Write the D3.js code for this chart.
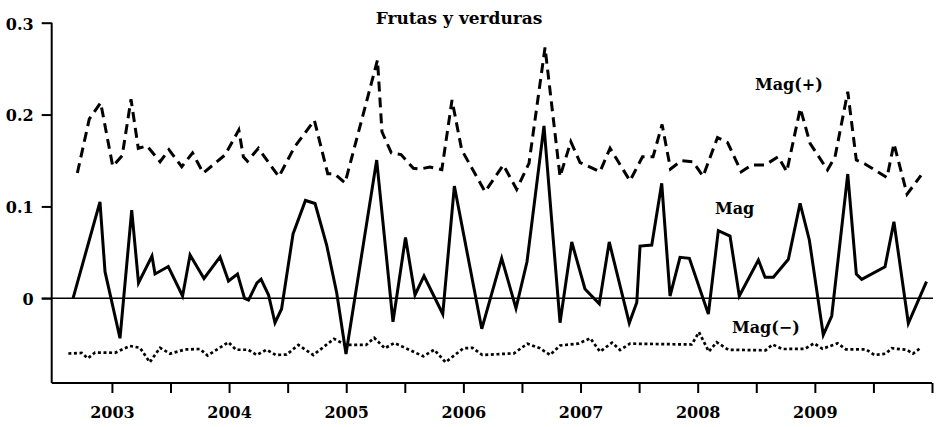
<!DOCTYPE html>
<html>
<head>
<meta charset="utf-8">
<script src="https://cdn.jsdelivr.net/npm/d3@7"></script>
<style>
  body { margin: 0; background: #fff; }
  svg text { font-family: "DejaVu Serif", "Liberation Serif", serif; fill: #000; }
</style>
</head>
<body>
<div id="chart"></div>
<script>
// Frutas y verduras - Mag, Mag(+), Mag(-) series, 2002-2009
// values (dates as decimal years)

const magDates = [2002.668, 2002.898, 2002.941, 2003.069, 2003.169, 2003.227, 2003.342, 2003.368, 2003.481, 2003.603,
  2003.667, 2003.786, 2003.923, 2003.995, 2004.072, 2004.132, 2004.166, 2004.238, 2004.273, 2004.337,
  2004.392, 2004.448, 2004.546, 2004.652, 2004.734, 2004.833, 2004.919, 2004.998, 2005.260, 2005.399,
  2005.506, 2005.587, 2005.664, 2005.824, 2005.923, 2006.157, 2006.327, 2006.449, 2006.543, 2006.688,
  2006.825, 2006.925, 2007.038, 2007.160, 2007.245, 2007.416, 2007.480, 2007.508, 2007.608, 2007.693,
  2007.764, 2007.849, 2007.929, 2008.091, 2008.176, 2008.276, 2008.355, 2008.518, 2008.575, 2008.646,
  2008.774, 2008.874, 2008.953, 2009.072, 2009.144, 2009.281, 2009.354, 2009.400, 2009.599, 2009.675,
  2009.798, 2009.953];
const magValues = [0.000, 0.105, 0.029, -0.0435, 0.096, 0.0167, 0.046, 0.0265, 0.0346, 0.0025,
  0.0471, 0.0216, 0.045, 0.0188, 0.0265, -0.0002, -0.0019, 0.0167, 0.0207, 0.0036,
  -0.0266, -0.0116, 0.070, 0.1065, 0.1032, 0.058, 0.0058, -0.0606, 0.1505, -0.0255,
  0.0662, 0.0036, 0.0243, -0.0171, 0.1222, -0.0332, 0.0435, -0.0109, 0.0398, 0.1876,
  -0.0266, 0.0613, 0.0101, -0.0059, 0.0613, -0.0269, -0.0046, 0.0569, 0.058, 0.1252,
  0.0025, 0.0446, 0.0435, -0.0171, 0.0736, 0.0678, 0.0025, 0.0417, 0.0229, 0.0229,
  0.0425, 0.1034, 0.0635, -0.0399, -0.0193, 0.1353, 0.0265, 0.0207, 0.0344, 0.0834,
  -0.0272, 0.0181];

const plusDates = [2002.705, 2002.807, 2002.904, 2003.007, 2003.088, 2003.163, 2003.225, 2003.300, 2003.411, 2003.487,
  2003.596, 2003.688, 2003.780, 2003.965, 2004.083, 2004.122, 2004.157, 2004.250, 2004.425, 2004.556,
  2004.728, 2004.842, 2004.904, 2004.990, 2005.267, 2005.305, 2005.385, 2005.468, 2005.573, 2005.630,
  2005.713, 2005.816, 2005.903, 2005.986, 2006.185, 2006.341, 2006.455, 2006.560, 2006.697, 2006.825,
  2006.917, 2006.996, 2007.166, 2007.252, 2007.422, 2007.529, 2007.619, 2007.696, 2007.768, 2007.860,
  2007.960, 2008.046, 2008.169, 2008.255, 2008.372, 2008.461, 2008.575, 2008.688, 2008.760, 2008.876,
  2008.959, 2009.108, 2009.172, 2009.281, 2009.354, 2009.428, 2009.616, 2009.675, 2009.787, 2009.906];
const plusValues = [0.1364, 0.1952, 0.2129, 0.1437, 0.1554, 0.2166, 0.1633, 0.1658, 0.1487, 0.1618,
  0.1432, 0.1582, 0.1364, 0.156, 0.1832, 0.1541, 0.1492, 0.1633, 0.1324, 0.1641,
  0.1938, 0.1356, 0.1353, 0.1255, 0.2594, 0.1813, 0.1582, 0.1565, 0.1415, 0.1407,
  0.1429, 0.140, 0.2158, 0.1614, 0.116, 0.1451, 0.1186, 0.1469, 0.273, 0.1324,
  0.1705, 0.1478, 0.1378, 0.1633, 0.1279, 0.1541, 0.1541, 0.1892, 0.1407, 0.1497,
  0.1487, 0.1328, 0.175, 0.1696, 0.1378, 0.1451, 0.1451, 0.1541, 0.1378, 0.2068,
  0.1687, 0.1397, 0.1538, 0.2249, 0.1505, 0.1462, 0.1315, 0.1683, 0.1133, 0.1337];

const minusDates = [2002.628, 2002.742, 2002.794, 2002.856, 2003.026, 2003.154, 2003.240, 2003.323, 2003.411, 2003.496,
  2003.624, 2003.752, 2003.816, 2003.994, 2004.059, 2004.164, 2004.236, 2004.321, 2004.399, 2004.492,
  2004.591, 2004.719, 2004.896, 2004.994, 2005.169, 2005.239, 2005.329, 2005.410, 2005.510, 2005.658,
  2005.751, 2005.848, 2006.000, 2006.078, 2006.161, 2006.432, 2006.546, 2006.654, 2006.740, 2006.825,
  2006.979, 2007.084, 2007.166, 2007.269, 2007.337, 2007.422, 2007.949, 2008.011, 2008.095, 2008.162,
  2008.261, 2008.579, 2008.639, 2008.724, 2008.916, 2008.993, 2009.066, 2009.194, 2009.264, 2009.435,
  2009.509, 2009.606, 2009.656, 2009.784, 2009.838, 2009.898];
const minusValues = [-0.0601, -0.0595, -0.0653, -0.059, -0.0593, -0.0519, -0.0539, -0.0696, -0.0539, -0.0603,
  -0.0557, -0.0552, -0.0623, -0.0478, -0.056, -0.056, -0.0617, -0.056, -0.0617, -0.0612,
  -0.0508, -0.0617, -0.0441, -0.0508, -0.0508, -0.043, -0.0544, -0.0487, -0.0544, -0.0631,
  -0.056, -0.0696, -0.0544, -0.0539, -0.0617, -0.0599, -0.0494, -0.0544, -0.0617, -0.0514,
  -0.0494, -0.0435, -0.0581, -0.0483, -0.0563, -0.0494, -0.0503, -0.0369, -0.0581, -0.0478,
  -0.056, -0.0566, -0.0503, -0.0552, -0.055, -0.049, -0.055, -0.049, -0.0555, -0.0555,
  -0.0617, -0.0603, -0.0544, -0.056, -0.0603, -0.0544];

const yTicks = [0, 0.1, 0.2, 0.3];
const yTickLabels = ["0", "0.1", "0.2", "0.3"];
const yearTicks = [2003, 2004, 2005, 2006, 2007, 2008, 2009];
const halfYearTicks = [2003.5, 2004.5, 2005.5, 2006.5, 2007.5, 2008.5, 2009.5, 2010];

const width = 939;
const height = 427;

const svg = d3.select("#chart")
    .append("svg")
    .attr("width", width)
    .attr("height", height);

// scales
const xScale = d3.scaleLinear()
    .domain([2002.486, 2010.0])
    .range([51.7, 932]);

const yScale = d3.scaleLinear()
    .domain([-0.0922, 0.3])
    .range([383, 22.7]);

// zero line across the plot
svg.append("line")
    .attr("x1", xScale.range()[0] - 10)
    .attr("x2", xScale.range()[1] + 1)
    .attr("y1", yScale(0))
    .attr("y2", yScale(0))
    .attr("stroke", "#000")
    .attr("stroke-width", 1.5);

// y axis
const yAxis = svg.append("g")
    .attr("transform", `translate(${xScale.range()[0]},0)`)
    .call(d3.axisLeft(yScale)
        .tickValues(yTicks)
        .tickSize(10)
        .tickPadding(8)
        .tickFormat((d, i) => yTickLabels[i]));
yAxis.select(".domain")
    .attr("d", `M0,${yScale(0.3)}V${yScale.range()[0]}`)
    .attr("stroke-width", 2);
yAxis.selectAll(".tick line").attr("stroke-width", 2);
yAxis.selectAll(".tick text")
    .style("font-size", "16px")
    .style("font-weight", "bold")
    .style("font-family", "DejaVu Serif")
    .attr("dy", "0.4em");

// x axis: yearly labels + half-year ticks
const allXTicks = yearTicks.concat(halfYearTicks).sort((a, b) => a - b);
const xAxis = svg.append("g")
    .attr("transform", `translate(0,${yScale.range()[0]})`)
    .call(d3.axisBottom(xScale)
        .tickValues(allXTicks)
        .tickSize(10)
        .tickPadding(14)
        .tickFormat(d => yearTicks.includes(d) ? String(d) : ""));
xAxis.select(".domain")
    .attr("d", `M${xScale.range()[0]},0H${xScale.range()[1]}`)
    .attr("stroke-width", 2);
xAxis.selectAll(".tick line").attr("stroke-width", 2);
xAxis.selectAll(".tick text")
    .style("font-size", "16px")
    .style("font-weight", "bold")
    .style("font-family", "DejaVu Serif");

// lines
const line = d3.line()
    .x(d => xScale(d[0]))
    .y(d => yScale(d[1]));

svg.append("path")
    .datum(d3.zip(plusDates, plusValues))
    .attr("fill", "none")
    .attr("stroke", "#000")
    .attr("stroke-width", 3)
    .attr("stroke-dasharray", "10,6")
    .attr("d", line);

svg.append("path")
    .datum(d3.zip(magDates, magValues))
    .attr("fill", "none")
    .attr("stroke", "#000")
    .attr("stroke-width", 3)
    .attr("d", line);

svg.append("path")
    .datum(d3.zip(minusDates, minusValues))
    .attr("fill", "none")
    .attr("stroke", "#000")
    .attr("stroke-width", 2.7)
    .attr("stroke-dasharray", "3,2.6")
    .attr("d", line);

// title and series labels
svg.append("text")
    .attr("x", 459)
    .attr("y", 24)
    .attr("text-anchor", "middle")
    .style("font-size", "17px")
    .style("font-weight", "bold")
    .text("Frutas y verduras");

const labels = [
    {text: "Mag(+)", year: 2008.489, value: 0.2267},
    {text: "Mag", year: 2008.148, value: 0.0918},
    {text: "Mag(\u2212)", year: 2008.293, value: -0.0378}
];
svg.selectAll("text.series-label")
    .data(labels)
    .enter()
    .append("text")
    .attr("class", "series-label")
    .attr("x", d => xScale(d.year))
    .attr("y", d => yScale(d.value))
    .style("font-size", "16px")
    .style("font-weight", "bold")
    .text(d => d.text);
</script>
</body>
</html>
